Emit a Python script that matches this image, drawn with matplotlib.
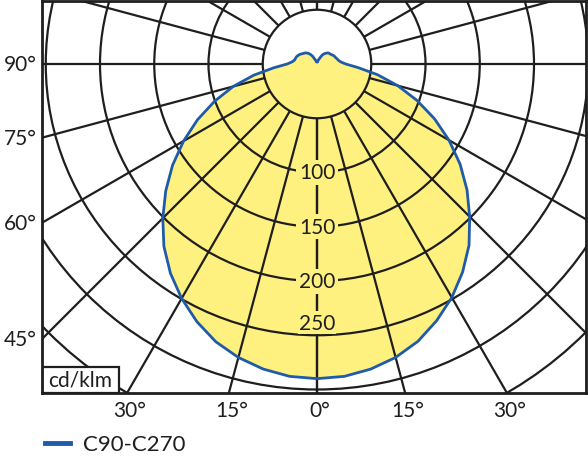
import numpy as np
import matplotlib.pyplot as plt
from matplotlib.patches import Circle, Rectangle
from matplotlib.lines import Line2D

plt.rcParams['font.family'] = ['Lato', 'DejaVu Sans']

# luminous intensity (cd/klm) vs gamma angle from nadir
gamma = np.arange(0, 185, 5)
c90 = [290, 289, 285.5, 280, 272, 261, 248.5, 234, 218, 199, 180.5, 161, 140.5, 119.5, 98, 77, 56.5, 38, 26.5,
       22, 20, 19, 18, 17.5, 16.5, 15.5, 15, 14.5, 13, 11.5, 9.5, 6, 4, 3, 2.5, 2, 2]
c270 = [290, 289, 285.5, 280, 272.5, 262, 249.5, 235.5, 219.5, 201, 182, 162.5, 142, 121.5, 100.5, 80, 59, 40, 27.5,
        23, 21, 20.5, 20, 19, 18, 16.5, 15.5, 14.5, 13, 11, 8.5, 5, 3.5, 3, 2.5, 2, 2]

rings = [50, 100, 150, 200, 250, 300, 350, 400, 450]
ring_labels = [100, 150, 200, 250]
spoke_angles = np.arange(0, 181, 15)
left_ticks = [90, 75, 60, 45]
bottom_ticks = [-30, -15, 0, 15, 30]

fill_col = '#FFF180'
line_col = '#1F5BA8'
ink = '#1e1e1e'

# pixel layout: polar centre at (317, 65), 1.085 px per cd/klm
scale = 1.085
cx, cy = 317, 65
xmin, xmax = (42 - cx) / scale, (586 - cx) / scale
ymin, ymax = -(394 - cy) / scale, (cy - 2) / scale

fig = plt.figure(figsize=(5.88, 4.6), dpi=100)
ax = fig.add_axes([42 / 588, 66 / 460, 544 / 588, 392 / 460])
ax.set_xlim(xmin, xmax)
ax.set_ylim(ymin, ymax)
ax.set_xticks([])
ax.set_yticks([])
for s in ax.spines.values():
    s.set_linewidth(2)
    s.set_color(ink)
    s.set_zorder(10)

g = np.radians(gamma)
r90 = np.array(c90)
r270 = np.array(c270)
xs = np.concatenate([-r270[::-1] * np.sin(g[::-1]), r90 * np.sin(g)])
ys = np.concatenate([-r270[::-1] * np.cos(g[::-1]), -r90 * np.cos(g)])

ax.fill(xs, ys, color=fill_col, zorder=1, lw=0)

# grid
for r in rings:
    ax.add_patch(Circle((0, 0), r, fill=False, ec=ink, lw=1.6, zorder=2))
for a in spoke_angles:
    for side in (-1, 1):
        t = np.radians(a)
        ax.plot([side * 50 * np.sin(t), side * 700 * np.sin(t)],
                [-50 * np.cos(t), -700 * np.cos(t)], color=ink, lw=1.6, zorder=2,
                solid_capstyle='butt')

ax.plot(xs, ys, color=line_col, lw=2, zorder=3, solid_joinstyle='round')

# ring values along the nadir
for v in ring_labels:
    if v == ring_labels[-1]:
        ax.text(0, -v + 2.5, str(v), ha='center', va='bottom', fontsize=15, color=ink, zorder=4,
                bbox=dict(boxstyle='square,pad=0.05', fc=fill_col, ec='none'))
    else:
        ax.text(0, -v, str(v), ha='center', va='center', fontsize=15, color=ink, zorder=4,
                bbox=dict(boxstyle='square,pad=0.12', fc=fill_col, ec='none'))

# angle labels
for a in left_ticks:
    t = np.radians(a)
    y = xmin * np.cos(t) / np.sin(t)
    ax.annotate(f'{a}°', xy=(xmin, y), xytext=(-4, 0), textcoords='offset points',
                ha='right', va='center', fontsize=15, color=ink, annotation_clip=False)
for a in bottom_ticks:
    t = np.radians(a)
    x = -ymin * np.tan(t)
    ax.annotate(f'{abs(a)}°', xy=(x, ymin), xytext=(2, -5), textcoords='offset points',
                ha='center', va='top', fontsize=15, color=ink, annotation_clip=False)

# unit box
bw, bh = 77 / 544, 26 / 392
ax.add_patch(Rectangle((0, 0), bw, bh, transform=ax.transAxes, fc='white', ec=ink, lw=1.6, zorder=6))
ax.text(bw / 2, bh / 2, 'cd/klm', transform=ax.transAxes, ha='center', va='center',
        fontsize=15, color=ink, zorder=7)

# legend
fig.add_artist(Line2D([45 / 588, 70 / 588], [16 / 460, 16 / 460], transform=fig.transFigure,
                      color=line_col, lw=3.5))
fig.text(83 / 588, 15 / 460, 'C90-C270', ha='left', va='center', fontsize=16, color=ink)

fig.savefig('out.png', dpi=100)
